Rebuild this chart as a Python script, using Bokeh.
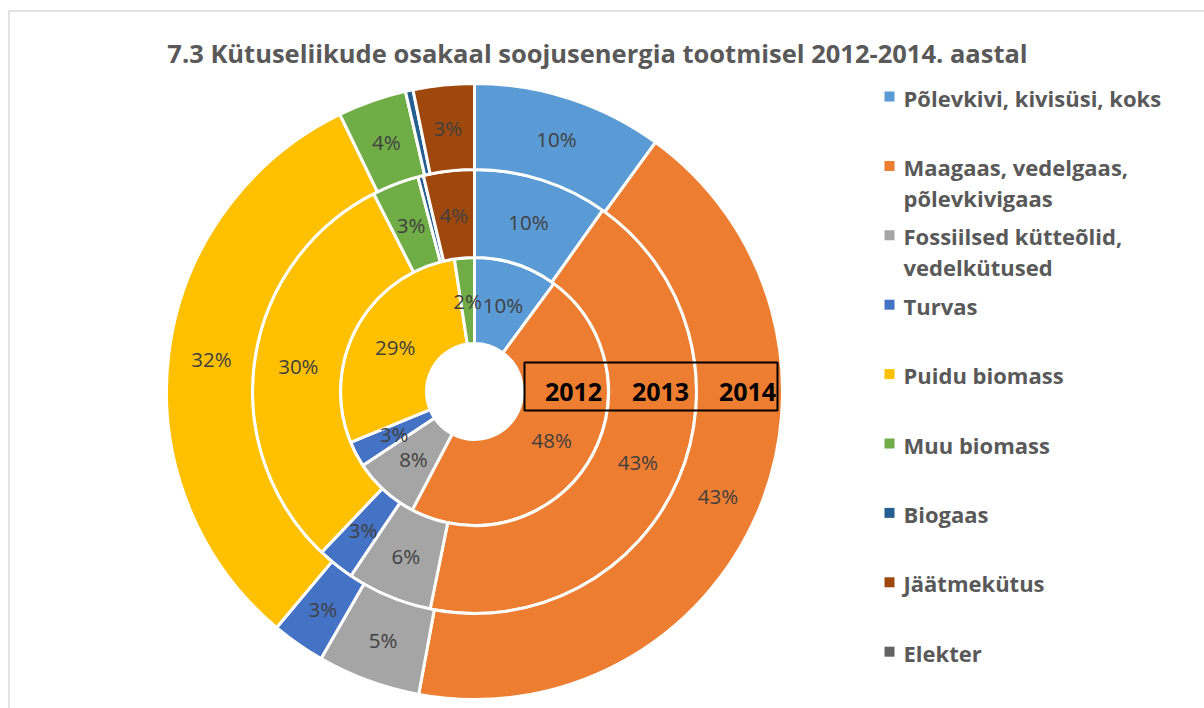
import math
from bokeh.plotting import figure
from bokeh.models import ColumnDataSource, Range1d
from bokeh.core.properties import value
from bokeh.embed import file_html
from bokeh.resources import INLINE

# ---------------- data ----------------
categories = [
    "Põlevkivi, kivisüsi, koks",
    "Maagaas, vedelgaas,\npõlevkivigaas",
    "Fossiilsed kütteõlid,\nvedelkütused",
    "Turvas",
    "Puidu biomass",
    "Muu biomass",
    "Biogaas",
    "Jäätmekütus",
    "Elekter",
]
colors = ["#5B9BD5", "#ED7D31", "#A5A5A5", "#4472C4", "#FFC000",
          "#70AD47", "#255E91", "#9E480E", "#636363"]
years = ["2012", "2013", "2014"]
share_2012 = [10.1, 47.6, 8.0, 3.1, 28.8, 2.4, 0.0, 0.0, 0.0]
share_2013 = [9.8, 43.4, 6.2, 2.7, 30.4, 3.4, 0.4, 3.7, 0.0]
share_2014 = [10.0, 42.9, 5.4, 2.8, 31.7, 3.6, 0.4, 3.2, 0.0]
title_text = "7.3 Kütuseliikude osakaal soojusenergia tootmisel 2012-2014. aastal"

# ---------------- layout ----------------
W, H = 1204, 708
cx, cy = 474, 317
ring_edges = [48, 134, 222, 308]

p = figure(width=W, height=H, output_backend="svg", toolbar_location=None,
           x_range=Range1d(0, W), y_range=Range1d(0, H), min_border=0,
           outline_line_color=None, background_fill_color="white",
           border_fill_color="white")
p.axis.visible = False
p.xgrid.visible = False
p.ygrid.visible = False

# chart border (top & left visible)
p.line(x=[8.5, 8.5, W], y=[0, H - 10.5, H - 10.5], line_color="#D9D9D9", line_width=1.5)

wedge = dict(x=[], y=[], r0=[], r1=[], a0=[], a1=[], color=[])
lab = dict(x=[], y=[], text=[])
for k, vals in enumerate([share_2012, share_2013, share_2014]):
    total = sum(vals)
    r0, r1 = ring_edges[k], ring_edges[k + 1]
    cum = 0.0
    for v, c in zip(vals, colors):
        if v <= 0:
            continue
        s = cum / total
        e = (cum + v) / total
        cum += v
        wedge["x"].append(cx)
        wedge["y"].append(cy)
        wedge["r0"].append(r0)
        wedge["r1"].append(r1)
        wedge["a0"].append(math.pi / 2 - 2 * math.pi * e)
        wedge["a1"].append(math.pi / 2 - 2 * math.pi * s)
        wedge["color"].append(c)
        if v >= 1:
            mid = (s + e) / 2
            ang = math.pi / 2 - 2 * math.pi * mid
            rm = (r0 + r1) / 2
            lab["x"].append(cx + rm * math.cos(ang))
            lab["y"].append(cy + rm * math.sin(ang))
            lab["text"].append(f"{round(v / total * 100)}%")

p.annular_wedge(x="x", y="y", inner_radius="r0", outer_radius="r1",
                start_angle="a0", end_angle="a1", direction="anticlock",
                fill_color="color", line_color="white", line_width=3,
                source=ColumnDataSource(wedge))

p.text(x="x", y="y", text="text", source=ColumnDataSource(lab),
       text_align="center", text_baseline="middle",
       text_font=value("Open Sans"), text_font_size="20.5px", text_color="#404040")

# year box and labels
p.quad(left=cx + 50, right=cx + 303, bottom=cy - 19, top=cy + 29,
       fill_color=None, line_color="black", line_width=2)
yx = [cx + (ring_edges[i] + ring_edges[i + 1]) / 2 + 8 for i in range(3)]
p.text(x=yx, y=[cy] * 3, text=years, text_align="center", text_baseline="middle",
       text_font=value("Open Sans"), text_font_style="bold",
       text_font_size="25px", text_color="black")

# title
p.text(x=[597], y=[H - 52], text=[title_text], text_align="center",
       text_baseline="middle", text_font=value("Open Sans"),
       text_font_style="bold", text_font_size="25.5px", text_color="#595959")

# legend
leg_sq = dict(x=[], y=[], color=[])
leg_tx = dict(x=[], y=[], text=[])
for i, (name, c) in enumerate(zip(categories, colors)):
    y0 = H - 97 - i * 69.4
    leg_sq["x"].append(889)
    leg_sq["y"].append(y0 + 1)
    leg_sq["color"].append(c)
    for j, line in enumerate(name.split("\n")):
        leg_tx["x"].append(903)
        leg_tx["y"].append(y0 - j * 31)
        leg_tx["text"].append(line)
p.rect(x="x", y="y", width=10, height=10, fill_color="color", line_color=None,
       source=ColumnDataSource(leg_sq))
p.text(x="x", y="y", text="text", source=ColumnDataSource(leg_tx),
       text_align="left", text_baseline="middle", text_font=value("Open Sans"),
       text_font_style="bold", text_font_size="22px", text_color="#595959")

open("out.html", "w").write(file_html(p, INLINE))
